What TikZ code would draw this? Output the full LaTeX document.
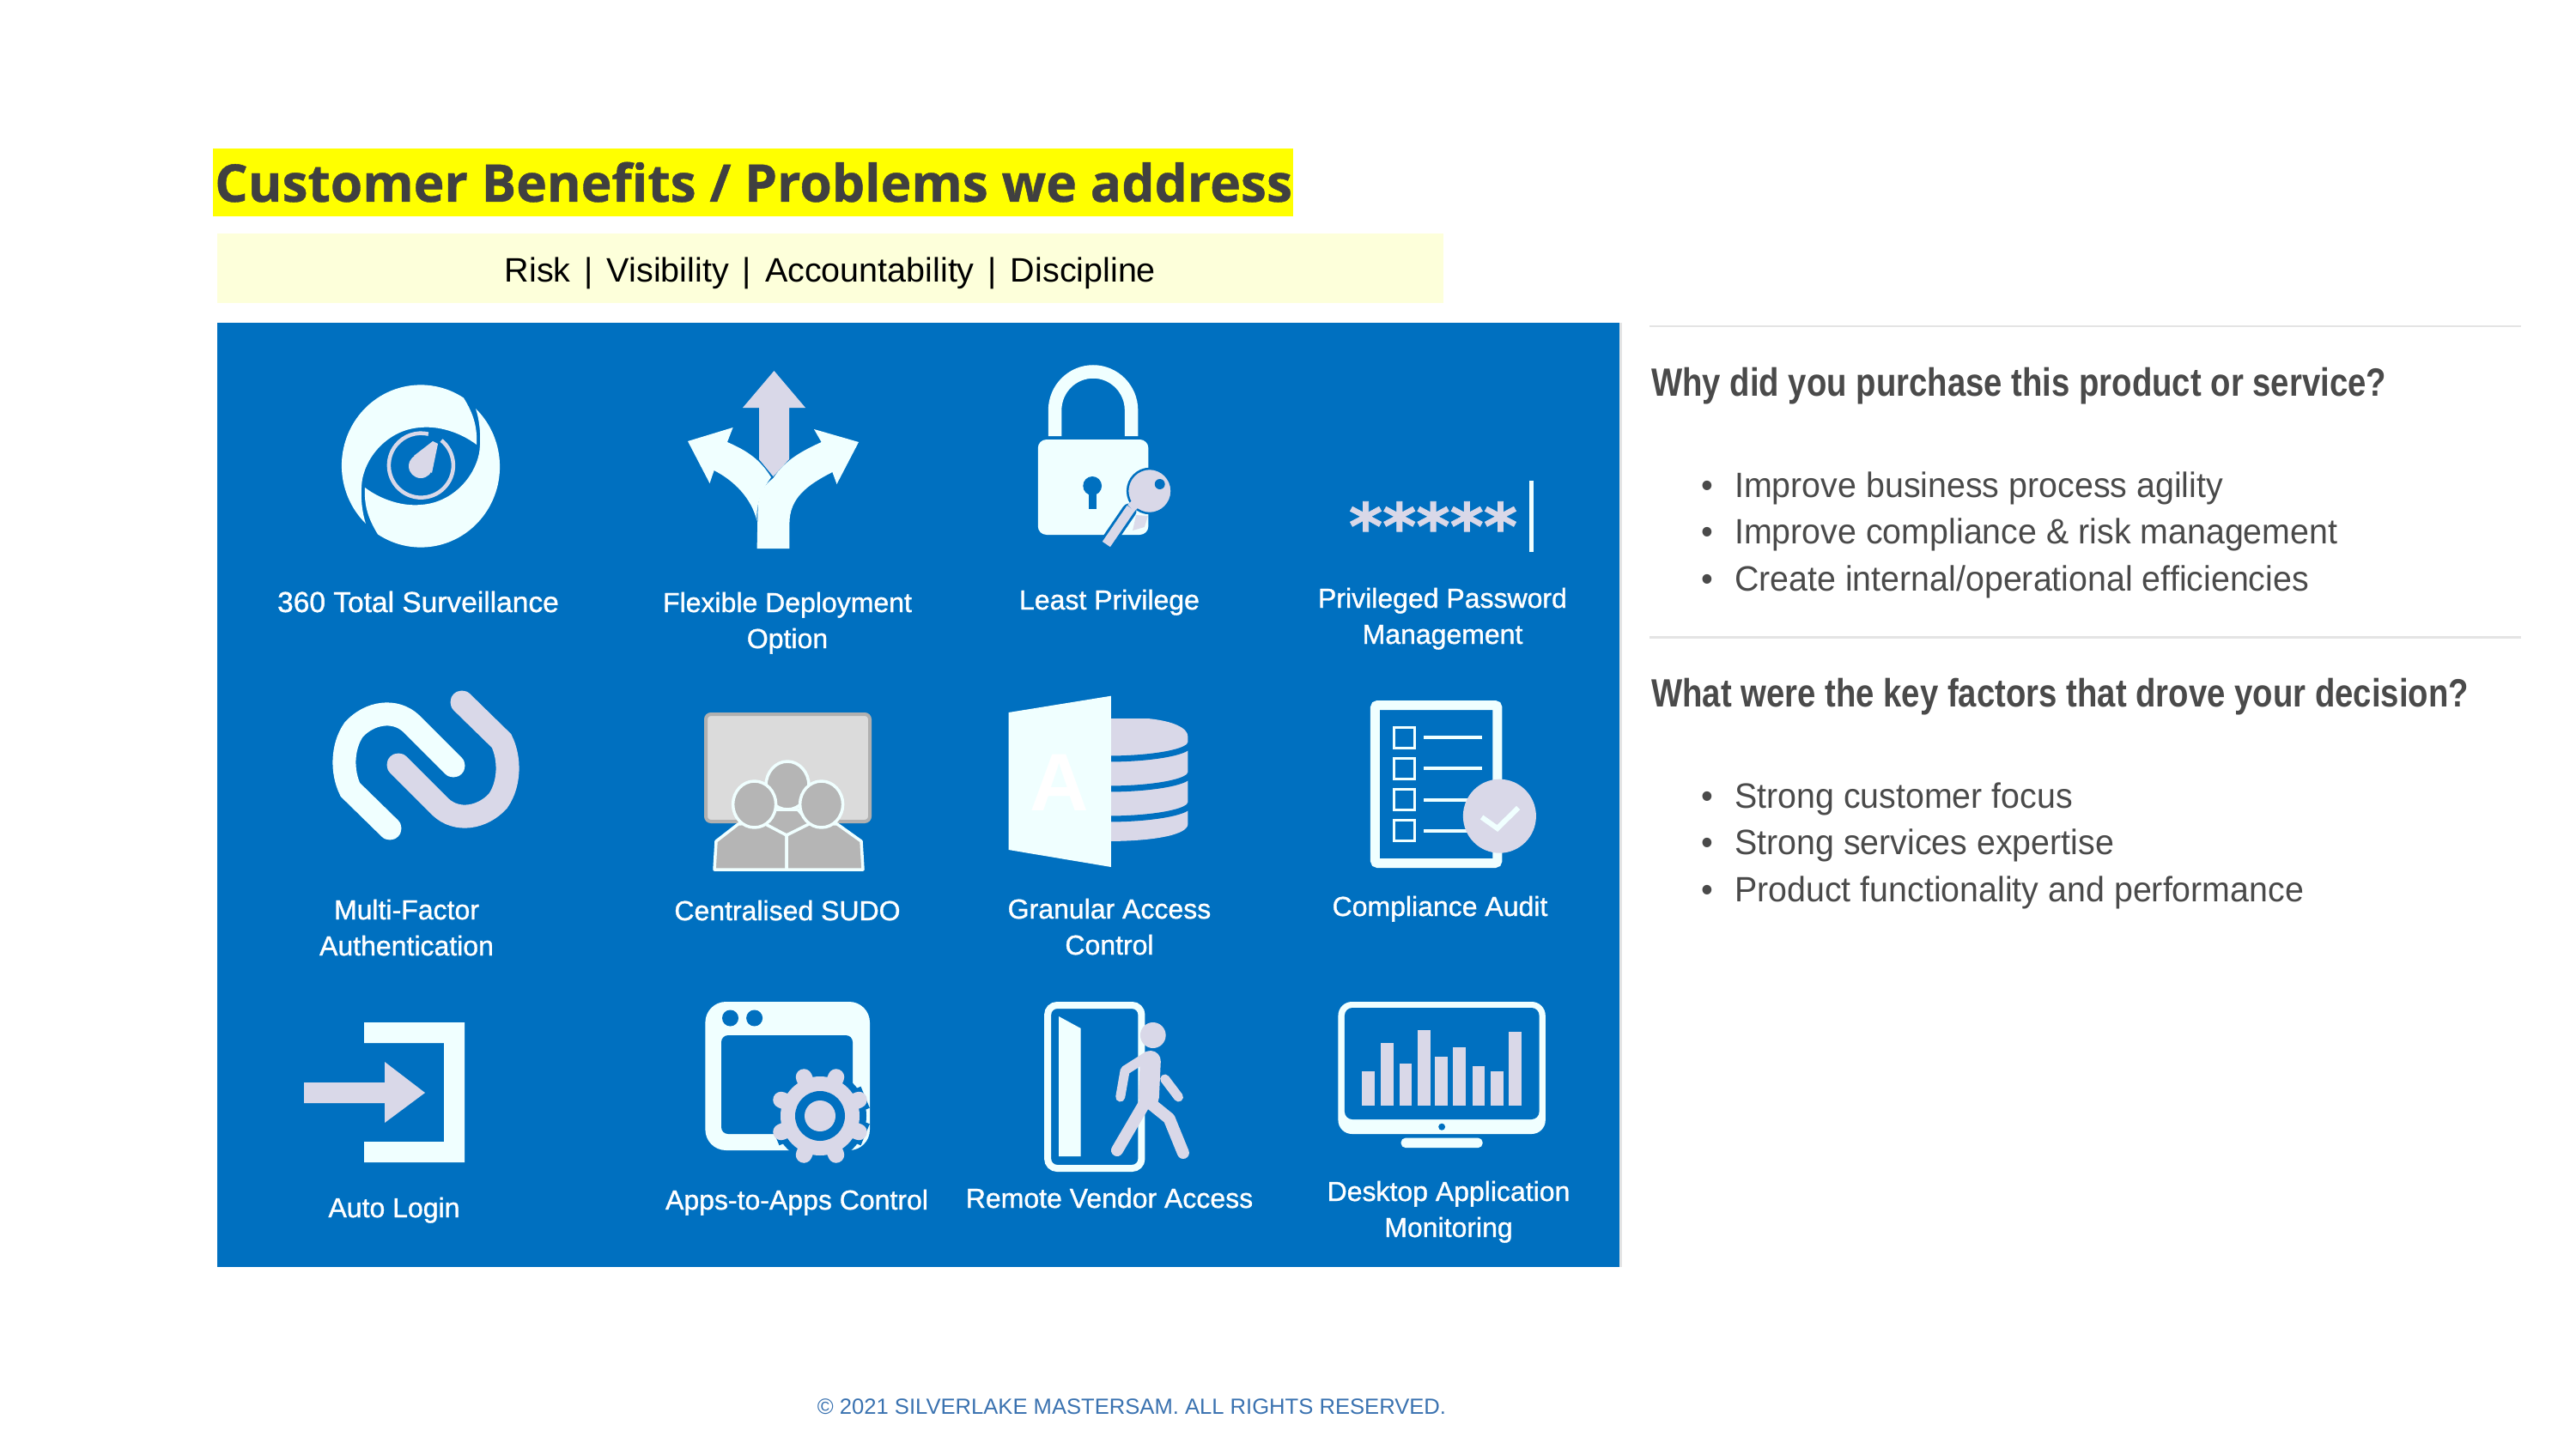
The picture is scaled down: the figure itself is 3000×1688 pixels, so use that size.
\documentclass[tikz,border=0pt]{standalone}
\usepackage{fontspec}
\setmainfont{Liberation Sans}
\newfontfamily\titlefont[FakeBold=0.7]{Open Sans}
\newfontfamily\headfont[FakeStretch=0.833]{Liberation Sans}
\newfontfamily\itemfont[FakeStretch=0.96]{Liberation Sans}
\newfontfamily\labelfont[FakeBold=1.1]{Liberation Sans}
\newfontfamily\starfont[FakeBold=1]{DejaVu Sans}
\definecolor{titleyellow}{RGB}{255,255,0}
\definecolor{panelblue}{HTML}{0070C0}
\definecolor{iconwhite}{HTML}{F0FFFF}
\definecolor{iconlilac}{HTML}{D9D8E8}
\definecolor{paleyellow}{HTML}{FDFFDA}
\definecolor{textgrey}{HTML}{4A4A4A}
\definecolor{titlegrey}{HTML}{404040}
\definecolor{rulegrey}{HTML}{E4E4E4}
\definecolor{footblue}{HTML}{3A72B0}
\newcommand{\itm}[1]{\makebox[39pt][l]{\textbullet}#1}
\newcommand{\tagsep}{\hspace{5pt} | \hspace{5pt}}

\begin{document}
\begin{tikzpicture}[x=1pt,y=1pt,yscale=-1,
    label/.style={anchor=base,text=white,align=center,inner sep=0pt,font=\labelfont\fontsize{32}{42}\selectfont},
    head/.style={anchor=base west,text=textgrey,inner sep=0pt,font=\headfont\bfseries\fontsize{46}{50}\selectfont},
    bullet/.style={anchor=base west,text=textgrey,inner sep=0pt,font=\itemfont\fontsize{41}{50}\selectfont},
    wht/.style={fill=iconwhite},
    lil/.style={fill=iconlilac},
    hole/.style={fill=panelblue},
    wline/.style={draw=iconwhite,line cap=round},
    lline/.style={draw=iconlilac,line cap=round},
    ]
  \useasboundingbox (0,0) rectangle (3000,1688);
  \fill[titleyellow] (248,173) rectangle (1506,252);
  \fill[paleyellow] (253,272) rectangle (1681,353);
  \fill[panelblue] (253,376) rectangle (1886,1476);
  \draw[rulegrey,line width=3] (1887.5,376) -- (1887.5,1476);
  \draw[rulegrey,line width=2.5] (1921,380) -- (2936,380);
  \draw[rulegrey,line width=2.5] (1921,742.5) -- (2936,742.5);

  \node[anchor=base west,inner sep=0pt,text=titlegrey,font=\titlefont\bfseries\fontsize{60.5}{70}\selectfont] (title) at (250,235) {Customer Benefits / Problems we address};
  \node[anchor=base,inner sep=0pt,text=black,font=\fontsize{39.5}{46}\selectfont] (tagline) at (967,328) {Risk\tagsep Visibility\tagsep Accountability\tagsep Discipline};

  \node[head] (whyhead) at (1923,461) {Why did you purchase this product or service?};
  \node[bullet] (why1) at (1981,579) {\itm{Improve business process agility}};
  \node[bullet] (why2) at (1981,633.5) {\itm{Improve compliance \& risk management}};
  \node[bullet] (why3) at (1981,688) {\itm{Create internal/operational efficiencies}};
  \node[head] (keyhead) at (1923,823) {What were the key factors that drove your decision?};
  \node[bullet] (key1) at (1981,941) {\itm{Strong customer focus}};
  \node[bullet] (key2) at (1981,995.5) {\itm{Strong services expertise}};
  \node[bullet] (key3) at (1981,1050) {\itm{Product functionality and performance}};

  \node[anchor=base,inner sep=0pt,text=footblue,font=\fontsize{25.6}{32}\selectfont] (footer) at (1318,1647) {\textcopyright{} 2021 SILVERLAKE MASTERSAM. ALL RIGHTS RESERVED.};

  % surveillance
  \begin{scope}[shift={(490,543)}]
    \foreach \r in {0,180} {
      \fill[wht,rotate=\r] (-64,67) arc (134:303:92 and 94)
        .. controls (62,-60) and (66,-45) .. (65,-25)
        .. controls (45,-40) and (20,-47) .. (0,-45)
        .. controls (-35,-43) and (-62,-15) .. (-68,15)
        .. controls (-71,35) and (-68,55) .. (-64,67) -- cycle;
    }
    \draw[iconlilac,line width=4.5] (24,-30) arc (-51:283:37.5);
    \fill[lil] (0,0) circle (14);
    \fill[lil] (-8,-12) -- (14,-29) -- (20,-26) -- (13,8) -- cycle;
  \end{scope}
  \node[label] (surv) at (487,713) {\fontsize{33.5}{42}\selectfont 360 Total Surveillance};

  % deployment
  \fill[lil] (901.5,432) -- (938,475) -- (919,475) -- (919,535) -- (900.5,555) -- (884,535) -- (884,475) -- (865,475) -- cycle;
  \fill[wht] (881.6,639) -- (882.6,590) .. controls (884,575) and (890,565) .. (900.5,557)
    .. controls (915,535) and (935,525) .. (956.6,515) -- (948,500) -- (1000,515) -- (974.5,564) -- (969.4,550)
    .. controls (940,565) and (919.4,580) .. (919.4,610) -- (919.4,639) -- cycle;
  \fill[wht] (881.6,607) .. controls (880,585) and (888,570) .. (898,556)
    .. controls (885,535) and (870,525) .. (847,515) -- (853.6,498) -- (801,514) -- (826.5,563) -- (831.6,548)
    .. controls (855,560) and (875,580) .. (881.6,607) -- cycle;
  \node[label] (flex) at (917,755) {Flexible Deployment\\Option};

  % lock
  \begin{scope}[xshift=11.38,xscale=.98916]
    \draw[iconwhite,line width=15.5] (1230.5,508) -- (1230.5,478) arc (180:360:45) -- (1320.5,508);
    \fill[wht,rounded corners=10] (1210.5,512) rectangle (1340.5,623);
    \fill[hole] (1274.6,566) circle (11);
    \fill[hole] (1270,570) rectangle (1279,593);
    \draw[panelblue,line width=17,line cap=round] (1318,595) -- (1291,634);
    \fill[iconlilac,opacity=.9] (1326,600) -- (1340,601) -- (1336,614) -- (1322,618) -- cycle;
    \draw[iconlilac,line width=11] (1320,592) -- (1291,634);
    \filldraw[fill=iconlilac,draw=panelblue,line width=2.5] (1342,572) circle (26);
    \draw[iconlilac,line width=11] (1332,580) -- (1320,592);
    \fill[hole] (1354,564) circle (6);
    \fill[wht] (1788.6,560) rectangle (1794,643);
  \end{scope}
  \node[label] (least) at (1292,710) {Least Privilege};

  % password
  \node[anchor=base,inner sep=0pt,text=iconlilac,font=\starfont\bfseries\fontsize{75}{90}\selectfont] (stars) at (1669,640) {*****};
  \node[label] (ppm) at (1680,750) {Privileged Password\\Management};

  % multi-factor
  \draw[wline,line width=27] (454,965) -- (408,920) .. controls (398,900) and (398,870) .. (412,850) .. controls (430,830) and (460,825) .. (479,843) -- (528,892);
  \draw[lline,line width=27] (538,818) -- (584,863) .. controls (594,883) and (594,913) .. (580,933) .. controls (562,953) and (532,958) .. (513,940) -- (464,891);
  \node[label] (mfa) at (473.5,1113) {Multi-Factor\\Authentication};

  % sudo
  \filldraw[fill=gray!28,draw=gray!62,line width=4,rounded corners=6] (822,832) rectangle (1013,957);
  \begin{scope}[fill=gray!58,draw=iconwhite,line width=3.5,line join=round]
    \filldraw (903,943) -- (887.5,962) -- (916,973) -- (946,962) -- (929,943) -- cycle;
    \filldraw (917,915) ellipse (25 and 28);
    \filldraw (859.7,960) -- (834,980) -- (832,1013) -- (916,1013) -- (916,973) -- (887.5,958) -- cycle;
    \filldraw (878.6,937) ellipse (25 and 27);
    \filldraw (975,960) -- (1003,980) -- (1005,1013) -- (916,1013) -- (916,973) -- (946,958) -- cycle;
    \filldraw (956.6,937) ellipse (25 and 27);
  \end{scope}
  \node[label] (sudo) at (917,1072) {Centralised SUDO};

  % granular, compliance
  \begin{scope}[xshift=11.38,xscale=.98916]
    \fill[lil] (1290,837) -- (1340,837) .. controls (1370,840) and (1387,848) .. (1387,858) -- (1387,960) .. controls (1387,972) and (1350,980) .. (1290,980) -- cycle;
    \foreach \d in {0,35,70}
      \draw[panelblue,line width=7] (1390,866+\d) arc (0:95:98 and 18);
    \fill[wht] (1176,830) -- (1296.6,810.7) -- (1296.6,1010) -- (1176,990) -- cycle;
    \draw[iconwhite,line width=11,rounded corners=3] (1607.5,821.5) rectangle (1751.5,1005.5);
    \foreach \y/\l in {847/859,883/895,919/932,955/968} {
      \draw[iconwhite,line width=3] (1629.5,\y) rectangle (1654,\y+24);
      \draw[iconwhite,line width=4] (1665,\l) -- (1733,\l);
    }
    \fill[lil] (1754,950.7) circle (43);
    \draw[iconwhite,line width=6] (1733,952) -- (1751.4,965) -- (1776,941);
  \end{scope}
  \node[inner sep=0pt,text=white,font=\bfseries\fontsize{95}{100}\selectfont] (letterA) at (1234,912) {A};
  \node[label] (gran) at (1292,1112) {Granular Access\\Control};
  \node[label] (audit) at (1677,1067) {Compliance Audit};

  % auto login
  \fill[wht] (424,1191) -- (541,1191) -- (541,1354) -- (424,1354) -- (424,1330) -- (517,1330) -- (517,1215) -- (424,1215) -- cycle;
  \fill[lil] (354,1261) -- (448,1261) -- (448,1237) -- (495,1273) -- (448,1308) -- (448,1285) -- (354,1285) -- cycle;
  \node[label] (login) at (459,1418) {Auto Login};

  % apps
  \fill[wht,rounded corners=24] (821.4,1167) rectangle (1013,1340);
  \fill[hole,rounded corners=8] (840,1206) rectangle (993,1321);
  \fill[hole] (850.5,1186) circle (9.5);
  \fill[hole] (878.6,1186) circle (9.5);
  \begin{scope}[shift={(955,1300)}]
    \fill[hole] (0,0) circle (54);
    \foreach \a in {0,45,...,315}
      \draw[panelblue,line width=27] (\a+22.5:40) -- (\a+22.5:57);
    \fill[lil] (0,0) circle (46);
    \foreach \a in {0,45,...,315}
      \draw[iconlilac,line width=19,line cap=round] (\a+22.5:42) -- (\a+22.5:49);
    \fill[hole] (0,0) circle (29);
    \fill[lil] (0,0) circle (18);
  \end{scope}
  \node[label] (apps) at (928,1409) {Apps-to-Apps Control};

  % remote vendor, desktop
  \begin{scope}[xshift=11.38,xscale=.98916]
    \draw[iconwhite,line width=8,rounded corners=11] (1222,1171) rectangle (1332.5,1361);
    \fill[wht] (1235,1184) -- (1261,1198) -- (1261,1347) -- (1235,1347) -- cycle;
    \fill[lil] (1346,1206) circle (15);
    \begin{scope}[iconlilac,line cap=round,line join=round]
      \draw[line width=11] (1340,1230) -- (1313,1247) -- (1307.5,1278);
      \draw[line width=24] (1343,1236) -- (1341,1278);
      \draw[line width=14] (1335,1287) -- (1303.7,1340);
      \draw[line width=14] (1340,1283) -- (1365,1303) -- (1381.5,1343);
      \draw[line width=11] (1360,1257) -- (1376,1278);
    \end{scope}
    \fill[wht,rounded corners=16] (1564,1167) rectangle (1808,1321);
    \fill[hole,rounded corners=9] (1571.6,1174) rectangle (1800.7,1304);
    \fill[hole] (1686,1312.7) circle (4);
    \fill[wht,rounded corners=5] (1638,1325.7) rectangle (1734,1337);
    \foreach \x/\t in {1599.6/1247.7,1621.5/1215,1643.4/1239,1664.8/1200,1685.6/1231,1707/1220,1729.4/1242,1750.8/1248,1772/1202}
      \fill[lil] (\x-7.5,\t) rectangle (\x+7.5,1288);
  \end{scope}
  \node[label] (vendor) at (1292,1407) {Remote Vendor Access};
  \node[label] (monitor) at (1687,1441) {Desktop Application\\Monitoring};
\end{tikzpicture}
\end{document}
